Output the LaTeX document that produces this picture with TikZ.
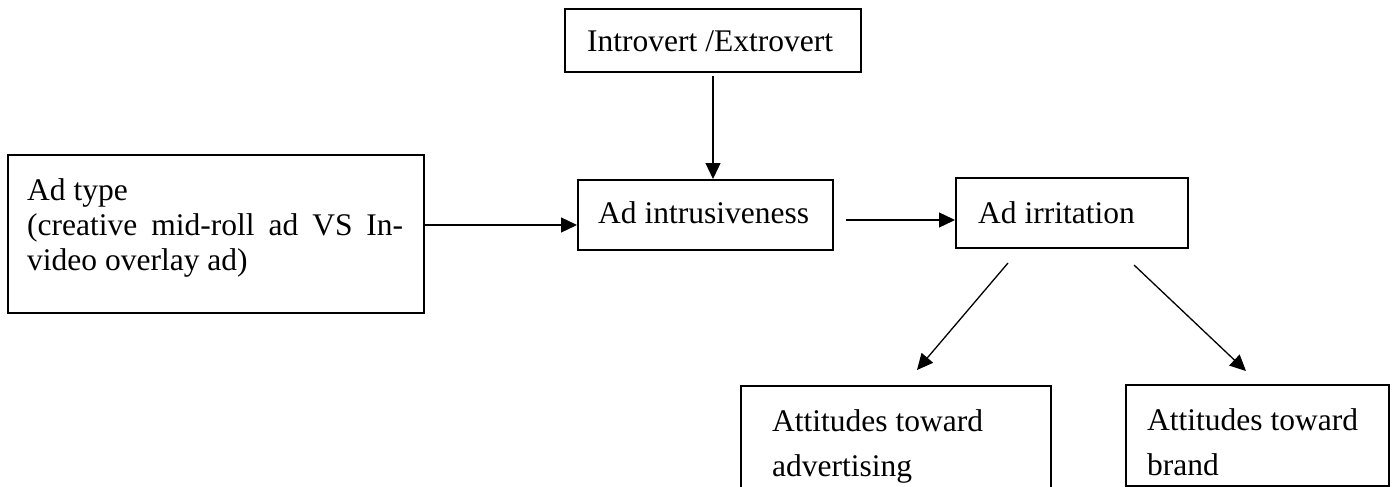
\documentclass[tikz,border=0pt]{standalone}
\usepackage{fontspec}
\setmainfont{Liberation Serif}
\usetikzlibrary{arrows.meta}
\tikzset{
  box/.style={draw=black, line width=2pt, inner sep=0pt},
  txt/.style={inner sep=0pt, font=\fontsize{31.5}{34}\selectfont},
  txtmid/.style={inner sep=0pt, align=left, font=\fontsize{31.5}{35}\selectfont},
  txtwide/.style={inner sep=0pt, align=left, font=\fontsize{31.5}{45}\selectfont},
  arr/.style={line width=1.3pt, -{Triangle[length=16pt,width=15pt]}},
}
\begin{document}
\begin{tikzpicture}[x=1pt,y=-1pt]
\useasboundingbox (0,0) rectangle (1397,487);
\clip (0,0) rectangle (1397,487);
% boxes
\node[box, minimum width=296pt, minimum height=63pt] (intro) at (713,40.5) {};
\node[box, minimum width=416pt, minimum height=158pt] (adtype) at (216,234) {};
\node[box, minimum width=255pt, minimum height=70pt] (intr) at (705.5,215) {};
\node[box, minimum width=232pt, minimum height=70pt] (irr) at (1072,213) {};
\node[box, minimum width=310pt, minimum height=130pt] (adv) at (896,451) {};
\node[box, minimum width=263pt, minimum height=101pt] (brand) at (1257.5,435.5) {};
% texts
\node[txt, anchor=base west] (intro-t) at (587,52) {Introvert /Extrovert};
\node[txt, anchor=base west] (intr-t) at (598,223) {Ad intrusiveness};
\node[txt, anchor=base west] (irr-t) at (978,223) {Ad irritation};
\node[txtmid, anchor=north west] (adtype-t) at (27,178) {Ad type\\\makebox[376pt][s]{(creative mid-roll ad VS In-}\\video overlay ad)};
\node[txtwide, anchor=north west] (adv-t) at (772,409) {Attitudes toward\\advertising};
\node[txtwide, anchor=north west] (brand-t) at (1147,408) {Attitudes toward\\brand};
% connector end points
\coordinate (i1) at (1008,263);
\coordinate (i2) at (1134,265);
\coordinate (a1) at (917,370);
\coordinate (b1) at (1246,371);
% connectors
\draw[arr] ([yshift=-3pt]intro.south) -- (intr.north -| intro.south);
\draw[arr] (adtype.east |- 0,225) -- (intr.west |- 0,225);
\draw[arr] ([xshift=12pt]intr.east |- 0,220) -- (irr.west |- 0,220);
\draw[arr] (i1) -- (a1);
\draw[arr] (i2) -- (b1);
\end{tikzpicture}
\end{document}
